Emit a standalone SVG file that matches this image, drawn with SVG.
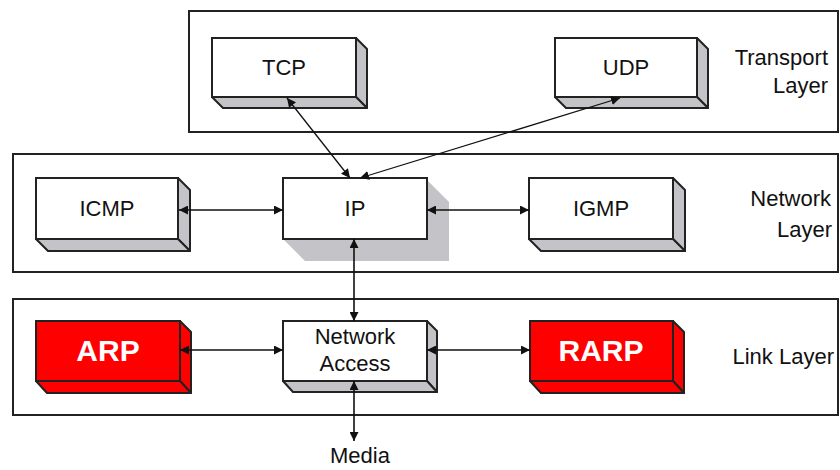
<svg xmlns="http://www.w3.org/2000/svg" width="840" height="470" viewBox="0 0 840 470">
<defs>
<style>
.layer{fill:#fff;stroke:#222;stroke-width:2}
.face{fill:#fff;stroke:#222;stroke-width:2}
.side{fill:#c4c4c8;stroke:#222;stroke-width:2;stroke-linejoin:round}
.rface{fill:#ff0000;stroke:#222;stroke-width:2}
.rside{fill:#ff0000;stroke:#222;stroke-width:2;stroke-linejoin:round}
.lbl{font-family:"Liberation Sans",Arial,sans-serif;font-size:22px;fill:#111;text-anchor:middle}
.big{font-family:"Liberation Sans",Arial,sans-serif;font-size:30px;font-weight:bold;fill:#fff;text-anchor:middle}
.lay{font-family:"Liberation Sans",Arial,sans-serif;font-size:22px;fill:#111;text-anchor:end}
.con{stroke:#111;stroke-width:1.6;fill:none;marker-start:url(#ah);marker-end:url(#ah)}
.thin{stroke-width:1.3}
</style>
<marker id="ah" viewBox="0 0 10 10" refX="10" refY="5" markerWidth="9" markerHeight="9" markerUnits="userSpaceOnUse" orient="auto-start-reverse">
<path d="M0,0 L10,5 L0,10 z" fill="#111"/>
</marker>
</defs>
<rect width="840" height="470" fill="#fff"/>

<g id="transport-layer">
<rect class="layer" x="189" y="11" width="649" height="121"/>
<text class="lay" x="828" y="65">Transport</text>
<text class="lay" x="828" y="93">Layer</text>
</g>
<g id="network-layer">
<rect class="layer" x="13" y="154" width="825" height="118"/>
<text class="lay" x="831" y="206">Network</text>
<text class="lay" x="832" y="237">Layer</text>
</g>
<g id="link-layer">
<rect class="layer" x="13" y="299" width="825" height="116"/>
<text class="lay" x="834" y="364">Link Layer</text>
</g>

<g id="tcp">
<polygon class="side" points="356,38 367,49 367,108 356,97"/>
<polygon class="side" points="212,97 356,97 367,108 223,108"/>
<rect class="face" x="212" y="38" width="144" height="59"/>
<text class="lbl" x="284" y="75">TCP</text>
</g>
<g id="udp">
<polygon class="side" points="697,38 708,49 708,108 697,97"/>
<polygon class="side" points="555,97 697,97 708,108 566,108"/>
<rect class="face" x="555" y="38" width="142" height="59"/>
<text class="lbl" x="626" y="75">UDP</text>
</g>
<g id="icmp">
<polygon class="side" points="178,178 190,190 190,251 178,239"/>
<polygon class="side" points="36,239 178,239 190,251 48,251"/>
<rect class="face" x="36" y="178" width="142" height="61"/>
<text class="lbl" x="107" y="216">ICMP</text>
</g>
<g id="ip">
<polygon points="427,180 449,202 449,261 305,261 283,239 427,239" fill="#c4c4c8"/>
<rect class="face" x="283" y="178" width="144" height="61"/>
<text class="lbl" x="355" y="216">IP</text>
</g>
<g id="igmp">
<polygon class="side" points="673,178 685,190 685,251 673,239"/>
<polygon class="side" points="529,239 673,239 685,251 541,251"/>
<rect class="face" x="529" y="178" width="144" height="61"/>
<text class="lbl" x="601" y="216">IGMP</text>
</g>
<g id="arp">
<polygon class="rside" points="180,321 191,332 191,393 180,381"/>
<polygon class="rside" points="36,381 180,381 191,393 47,393"/>
<rect class="rface" x="36" y="321" width="144" height="60"/>
<text class="big" x="108" y="361">ARP</text>
</g>
<g id="network-access">
<polygon class="side" points="427,321 437,331 437,392 427,381"/>
<polygon class="side" points="283,381 427,381 437,392 293,392"/>
<rect class="face" x="283" y="321" width="144" height="60"/>
<text class="lbl" x="355" y="344">Network</text>
<text class="lbl" x="355" y="371">Access</text>
</g>
<g id="rarp">
<polygon class="rside" points="673,321 684,332 684,393 673,381"/>
<polygon class="rside" points="530,381 673,381 684,393 541,393"/>
<rect class="rface" x="530" y="321" width="143" height="60"/>
<text class="big" x="601" y="361">RARP</text>
</g>
<g id="media">
<text class="lbl" x="360" y="463">Media</text>
</g>

<g id="connectors">
<line class="con thin" x1="287" y1="98" x2="350" y2="178"/>
<line class="con thin" x1="620" y1="98" x2="360" y2="178"/>
<line class="con" x1="179" y1="210" x2="283" y2="210"/>
<line class="con" x1="427" y1="210" x2="529" y2="210"/>
<line class="con" x1="354" y1="239" x2="354" y2="321"/>
<line class="con" x1="180" y1="350" x2="283" y2="350"/>
<line class="con" x1="427" y1="350" x2="530" y2="350"/>
<line class="con" x1="354" y1="381" x2="354" y2="441"/>
</g>
</svg>
